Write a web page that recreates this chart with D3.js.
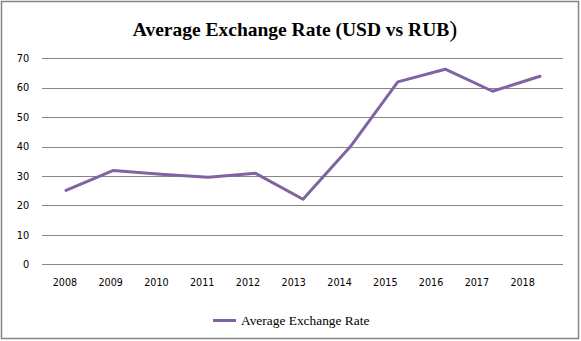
<!DOCTYPE html>
<html>
<head>
<meta charset="utf-8">
<script src="https://cdn.jsdelivr.net/npm/d3@7"></script>
<style>
  html, body { margin: 0; padding: 0; background: #fff; }
  svg { display: block; }
</style>
</head>
<body>
<svg id="chart" width="581" height="341"></svg>
<script>
const years = ["2008","2009","2010","2011","2012","2013","2014","2015","2016","2017","2018"];
const rates = [25.1, 31.9, 30.6, 29.6, 30.9, 22.1, 40.0, 62.0, 66.3, 58.8, 63.9];
const yTicks = [0, 10, 20, 30, 40, 50, 60, 70];
const seriesName = "Average Exchange Rate";
const titleText = "Average Exchange Rate (USD vs RUB";

const svg = d3.select("#chart");
const W = 581, H = 341;
const lineColor = "#8064A2";
const gridColor = "#868686";

// outer border
svg.append("rect")
  .attr("x", 1.5).attr("y", 1.5)
  .attr("width", W - 4).attr("height", H - 4)
  .attr("fill", "#fff")
  .attr("stroke", "#858585").attr("stroke-width", 1.5);

const plot = { left: 42, right: 563, top: 58.3, bottom: 264.3 };

const y = d3.scaleLinear().domain([0, 70]).range([plot.bottom, plot.top]);
const xLine = d3.scalePoint().domain(years).range([66, 540]);
const xLab = d3.scaleBand().domain(years).range([42, 545.5]);

// gridlines
svg.append("g").selectAll("line").data(yTicks).join("line")
  .attr("x1", plot.left).attr("x2", plot.right)
  .attr("y1", d => Math.round(y(d)) + 0.5).attr("y2", d => Math.round(y(d)) + 0.5)
  .attr("stroke", gridColor).attr("stroke-width", 1);

// y axis labels
const yAxis = svg.append("g")
  .attr("transform", `translate(${plot.left},0)`)
  .call(d3.axisLeft(y).tickValues(yTicks).tickSize(0).tickPadding(12.7).tickFormat(d3.format("d")));
yAxis.select(".domain").remove();
yAxis.selectAll("text")
  .attr("font-family", "DejaVu Sans").attr("font-size", "9.8px").attr("fill", "#000");

// x axis labels
const xAxis = svg.append("g")
  .attr("transform", `translate(0,${plot.bottom})`)
  .call(d3.axisBottom(xLab).tickSize(0).tickPadding(15));
xAxis.select(".domain").remove();
xAxis.selectAll("text")
  .attr("font-family", "DejaVu Sans").attr("font-size", "9.6px").attr("fill", "#000");

// line
const line = d3.line()
  .x((d, i) => xLine(years[i]))
  .y(d => y(d));
svg.append("path")
  .datum(rates)
  .attr("d", line)
  .attr("fill", "none")
  .attr("stroke", lineColor)
  .attr("stroke-width", 3)
  .attr("stroke-linejoin", "round")
  .attr("stroke-linecap", "round");

// title
const title = svg.append("text")
  .attr("x", 295).attr("y", 36)
  .attr("text-anchor", "middle")
  .attr("font-family", "Liberation Serif")
  .attr("font-weight", "bold")
  .attr("font-size", "19.5px")
  .attr("fill", "#000");
title.append("tspan").text(titleText);
title.append("tspan").attr("font-size", "24px").attr("font-weight", "normal").attr("dy", "1").text(")");

// legend
const lg = svg.append("g");
lg.append("line")
  .attr("x1", 213).attr("x2", 236)
  .attr("y1", 320.5).attr("y2", 320.5)
  .attr("stroke", lineColor).attr("stroke-width", 3);
lg.append("text")
  .attr("x", 241).attr("y", 325)
  .attr("font-family", "Liberation Serif")
  .attr("font-size", "13.4px")
  .attr("fill", "#000")
  .text(seriesName);
</script>
</body>
</html>
